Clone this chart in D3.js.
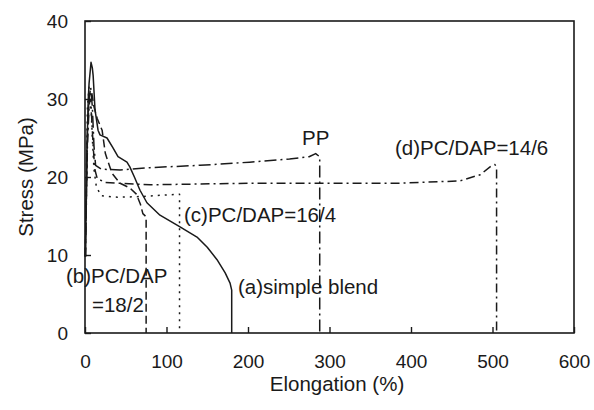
<!DOCTYPE html>
<html>
<head>
<meta charset="utf-8">
<script src="https://cdn.jsdelivr.net/npm/d3@7"></script>
<style>
  html, body { margin: 0; padding: 0; background: #fff; }
  svg { display: block; }
  text { font-family: "Liberation Sans", Arial, sans-serif; fill: #1a1a1a; }
</style>
</head>
<body>
<svg id="chart" width="594" height="410"></svg>
<script>
// ---------- data ----------
const xTicks = [0, 100, 200, 300, 400, 500, 600];
const yTicks = [0, 10, 20, 30, 40];

// (a) simple blend – solid
const curveA = [[0.5,9.8],[1,14],[2,22],[4,30],[5,32],[7.4,34.7],[9,34],[10,33],[12.3,28.6],[16,26],[18.4,25.4],[27,25],[34,23.8],[40.5,22.6],[51.5,21.9],[55,21.3],[61,19.9],[67.5,18.3],[76,16.7],[92,15.1],[116.6,13.6],[137.4,12.3],[150,11.0],[162,9.4],[172,7.7],[178,6.4],[180,5.5],[180,0]];
// (b) PC/DAP=18/2 – dashed
const curveB = [[0.5,9.8],[1,14],[3,26],[5,30.5],[8,31],[11,29],[15,27.5],[21,26],[25,23],[33,20.5],[43,19.2],[55,18.6],[63,17.8],[68,16.5],[71,15.3],[75,14.9],[75,0]];
// (c) PC/DAP=16/4 – dotted
const curveC = [[0.5,9.8],[1,13],[2,22],[3,29],[5,31.5],[7,30],[9,25],[11,21],[14,18.7],[20,17.6],[40,17.4],[70,17.5],[100,17.7],[116,17.8],[116,0]];
// PP – dash-dot
const curvePP = [[0.5,9.8],[1,13],[3,25],[5,30],[7,31.5],[9,29],[11,24],[13,21.5],[20,21],[43,20.9],[80,21.2],[141,21.5],[202,21.9],[251,22.3],[275,22.6],[283,23],[288,22.6],[288,0]];
// (d) PC/DAP=14/6 – dash-dot
const curveD = [[0.5,9.8],[1,13],[3,24],[5,29],[6,30],[8,28],[10,24],[12,21],[15,19.8],[25,19.3],[43,19.2],[80,19.0],[202,19.2],[288,19.2],[386,19.2],[460,19.5],[485,20.3],[497,21.3],[503,21.6],[505,21.2],[505,0]];

const seriesNames = ["(a)simple blend", "(b)PC/DAP", "(c)PC/DAP=16/4", "PP", "(d)PC/DAP=14/6"];

// ---------- layout ----------
const svg = d3.select("#chart");
const mLeft = 85, mRight = 574, mTop = 21, mBottom = 333;
const x = d3.scaleLinear().domain([0, 600]).range([mLeft, mRight]);
const y = d3.scaleLinear().domain([0, 40]).range([mBottom, mTop]);
const ink = "#1a1a1a";
const fsTick = "19px";
const fs = "20.5px";

// frame
svg.append("rect")
  .attr("x", mLeft).attr("y", mTop)
  .attr("width", mRight - mLeft).attr("height", mBottom - mTop)
  .attr("fill", "none").attr("stroke", ink).attr("stroke-width", 1.6);

// axes
const xAxis = svg.append("g").attr("transform", `translate(0,${mBottom})`)
  .call(d3.axisBottom(x).tickValues(xTicks).tickSizeInner(-6).tickSizeOuter(0).tickPadding(22));
const yAxis = svg.append("g").attr("transform", `translate(${mLeft},0)`)
  .call(d3.axisLeft(y).tickValues(yTicks).tickSizeInner(-6).tickSizeOuter(0).tickPadding(17));
[xAxis, yAxis].forEach(g => {
  g.select(".domain").remove();
  g.selectAll("line").attr("stroke", ink).attr("stroke-width", 1.4);
  g.selectAll("text").style("font-size", fsTick).style("font-family", '"Liberation Sans", Arial, sans-serif').attr("fill", ink);
});

// curves
const line = d3.line().x(d => x(d[0])).y(d => y(d[1]));
const curves = [
  {data: curveA, dash: null},
  {data: curveB, dash: "8,4"},
  {data: curveC, dash: "2,5"},
  {data: curvePP, dash: "12,4,2,4"},
  {data: curveD, dash: "9,4,2,4"}
];
curves.forEach(c => {
  svg.append("path").datum(c.data)
    .attr("d", line)
    .attr("fill", "none")
    .attr("stroke", ink)
    .attr("stroke-width", 1.5)
    .attr("stroke-linejoin", "round")
    .attr("stroke-dasharray", c.dash);
});

// curve labels
const labels = [
  {t: "PP", x: 302, y: 145},
  {t: "(d)PC/DAP=14/6", x: 395, y: 155},
  {t: "(c)PC/DAP=16/4", x: 184, y: 222},
  {t: "(a)simple blend", x: 238, y: 294},
  {t: "(b)PC/DAP", x: 66, y: 283},
  {t: "=18/2", x: 92, y: 312}
];
svg.selectAll("text.lbl").data(labels).enter().append("text")
  .attr("class", "lbl")
  .attr("x", d => d.x).attr("y", d => d.y)
  .style("font-size", fs)
  .text(d => d.t);

// axis titles
svg.append("text")
  .attr("x", 337).attr("y", 391)
  .attr("text-anchor", "middle")
  .style("font-size", fs)
  .text("Elongation (%)");
svg.append("text")
  .attr("transform", `translate(33,${(mTop + mBottom) / 2}) rotate(-90)`)
  .attr("text-anchor", "middle")
  .style("font-size", fs)
  .text("Stress (MPa)");
</script>
</body>
</html>
